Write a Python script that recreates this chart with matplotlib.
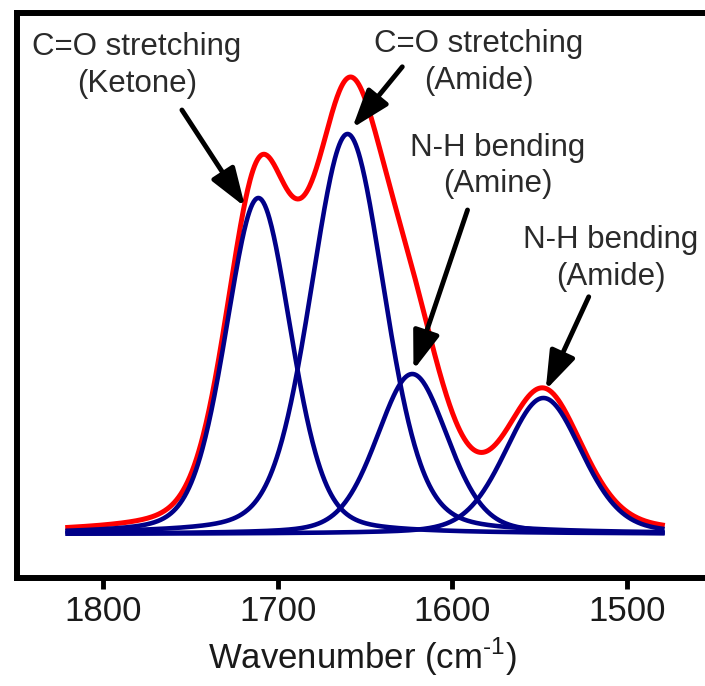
import matplotlib.pyplot as plt
import numpy as np

plt.rcParams['font.family'] = ['Liberation Sans', 'DejaVu Sans']
plt.rcParams['mathtext.fontset'] = 'custom'
plt.rcParams['mathtext.rm'] = 'Liberation Sans'
plt.rcParams['axes.unicode_minus'] = False

# fitted bands: ketone C=O, amide C=O, amine N-H, amide N-H
centers = [1711, 1660, 1623, 1548]   # cm-1
heights = [0.84, 1.00, 0.40, 0.34]   # a.u.
fwhm = [44, 50, 48, 52]              # cm-1
lorentz_frac = 0.25                  # pseudo-Voigt mixing
x_start, x_end = 1820, 1480

labels = ['C=O stretching\n(Ketone)', 'C=O stretching\n(Amide)',
          'N-H bending\n(Amine)', 'N-H bending\n(Amide)']
label_xy = [(1780.5, 1.171), (1585.1, 1.178), (1574.2, 0.920), (1509.5, 0.688)]
arrow_tail = [(1754.7, 1.060), (1628.7, 1.168), (1591.4, 0.810), (1522.1, 0.593)]
arrow_tip = [(1718.6, 0.818), (1657.3, 1.015), (1622.3, 0.410), (1546.7, 0.360)]


def band(x, x0, h, w):
    hw = w / 2
    lor = hw**2 / ((x - x0)**2 + hw**2)
    gau = np.exp(-np.log(2) * ((x - x0) / hw)**2)
    return h * (lorentz_frac * lor + (1 - lorentz_frac) * gau)


x = np.linspace(x_start, x_end, 800)
bands = [band(x, c, h, w) for c, h, w in zip(centers, heights, fwhm)]
total = np.sum(bands, axis=0)

fig = plt.figure(figsize=(7.05, 6.86), dpi=100)
ax = fig.add_axes([17 / 705, 1 - 578 / 686, 1.005 - 17 / 705, (578 - 12.5) / 686])

ax.plot(x, total, color='#ff0000', lw=3.6, zorder=2)
for b in bands:
    ax.plot(x, b, color='#000088', lw=3.3, zorder=3)

for txt, pos in zip(labels, label_xy):
    ax.text(pos[0], pos[1], txt, ha='center', va='center', fontsize=22.5,
            color='#2a2a2a', linespacing=1.3)
for tail, tip in zip(arrow_tail, arrow_tip):
    ax.annotate('', xy=tip, xytext=tail,
                arrowprops=dict(arrowstyle='-|>,head_length=1.3,head_width=0.45',
                                mutation_scale=18, lw=3.5, color='black',
                                shrinkA=0, shrinkB=0))

ax.set_xlim(1849, 1453.6)
ax.set_ylim(-0.11, 1.30375)
ax.set_xticks([1800, 1700, 1600, 1500])
ax.set_yticks([])
ax.tick_params(axis='x', direction='out', length=8, width=3.5, pad=4,
               labelsize=25, labelcolor='#1a1a1a')
for side in ['left', 'top', 'bottom']:
    ax.spines[side].set_linewidth(4.3)
ax.spines['right'].set_visible(False)
ax.set_xlabel(r'Wavenumber (cm$^{\text{-1}}$)', fontsize=25,
              color='#1a1a1a', labelpad=6)

plt.savefig('out.png', dpi=100)
